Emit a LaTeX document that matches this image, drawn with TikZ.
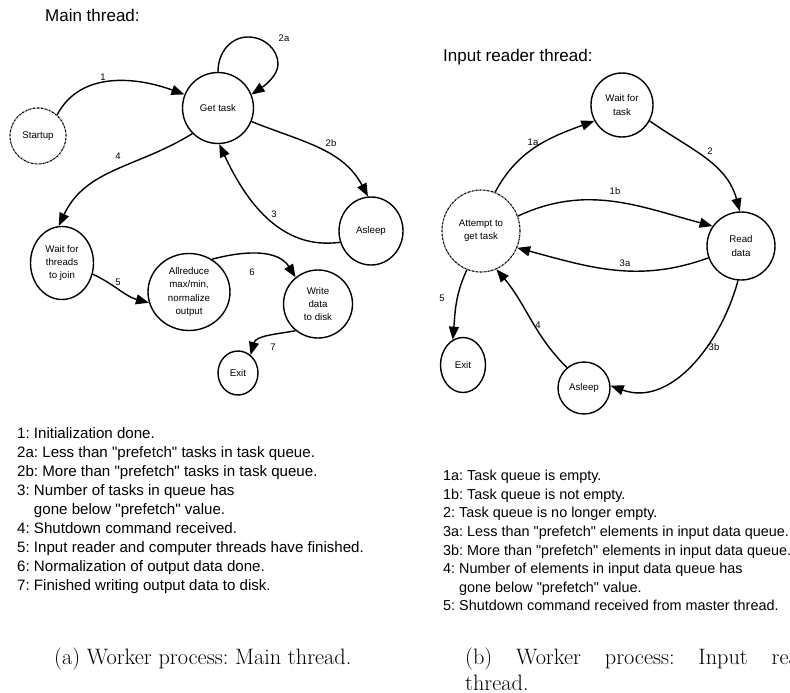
\documentclass[tikz,border=0pt]{standalone}
\usepackage{fontspec}
\newfontfamily\hv{Liberation Sans}
\usetikzlibrary{arrows.meta,shapes.geometric}

\begin{document}
\frenchspacing
\begin{tikzpicture}[x=1pt,y=1pt,
  state/.style={draw, line width=1.4pt, ellipse, inner sep=0pt, align=center,
    font=\hv\fontsize{9.7}{13.3}\selectfont},
  initstate/.style={state, line width=1.1pt,
    dash pattern=on 2pt off 0.7pt on 0.5pt off 0.7pt},
  tr/.style={line width=1.4pt, -{Triangle[length=13pt,width=10pt]}},
  lbl/.style={inner sep=0pt, font=\hv\fontsize{9.5}{11}\selectfont},
  ttl/.style={inner sep=0pt, anchor=west, font=\hv\fontsize{17}{20}\selectfont},
  legend/.style={inner sep=0pt, anchor=north west, align=left},
  capt/.style={inner sep=0pt, anchor=base west,
    font=\fontsize{22.3}{26.8}\selectfont}]

\useasboundingbox (0,0) rectangle (790,-693);
\clip (0,0) rectangle (790,-693);

% ---------------- Main thread ----------------
\node[ttl] (t1) at (45,-15) {Main thread:};

\node[initstate, minimum width=56pt, minimum height=56pt] (st) at (38,-136) {Startup};
\node[state, minimum width=71pt, minimum height=71pt] (gt) at (218,-108) {Get task};
\node[state, minimum width=64pt, minimum height=68pt] (as) at (371,-231) {Asleep};
\node[state, minimum width=63pt, minimum height=73pt] (wt) at (62,-263) {Wait for\\threads\\to join};
\node[state, minimum width=82pt, minimum height=77pt] (ar) at (189,-292) {Allreduce\\max/min,\\normalize\\output};
\node[state, minimum width=69pt, minimum height=68pt] (wd) at (318,-304) {Write\\data\\to disk};
\node[state, minimum width=40pt, minimum height=44pt] (ex) at (238,-373) {Exit};

\draw[tr] (st.48) to[out=62,in=160] (gt.158);
% self loop on "Get task"
\draw[tr] (gt.90) .. controls (218,-52) and (231,-37) .. (248,-37)
  .. controls (265,-37) and (278,-50) .. (278,-64)
  .. controls (278,-76) and (264,-86) .. (gt.22);
\draw[tr] (gt.-22) to[out=-22,in=118] (as.95);
\draw[tr] (as.200) to[out=188,in=-65] (gt.-88);
\draw[tr] (gt.-135) to[out=212,in=65] (wt.95);
\draw[tr] (wt.-20) to[out=-25,in=165] (ar.195);
\draw[tr] (ar.55) to[out=15,in=122] (wd.130);
\draw[tr] (wd.-130) to[out=190,in=75] (ex.55);

\node[lbl] (l1) at (103,-77) {1};
\node[lbl] (l2a) at (284,-38) {2a};
\node[lbl] (l2b) at (331,-143) {2b};
\node[lbl] (l3) at (274,-214) {3};
\node[lbl] (l4) at (118,-156) {4};
\node[lbl] (l5) at (118,-282) {5};
\node[lbl] (l6) at (252,-272) {6};
\node[lbl] (l7) at (273,-347) {7};

\node[legend, font=\hv\fontsize{15.1}{19}\selectfont] (leg1) at (17,-427) {1: Initialization done.\\
2a: Less than "prefetch" tasks in task queue.\\
2b: More than "prefetch" tasks in task queue.\\
3: Number of tasks in queue has\\
\phantom{3: }gone below "prefetch" value.\\
4: Shutdown command received.\\
5: Input reader and computer threads have finished.\\
6: Normalization of output data done.\\
7: Finished writing output data to disk.};

% ---------------- Input reader thread ----------------
\node[ttl] (t2) at (443,-57) {Input reader thread:};

\node[state, minimum width=62pt, minimum height=64pt] (wf) at (622,-105) {Wait for\\task};
\node[initstate, minimum width=78pt, minimum height=82pt] (at) at (481,-231) {Attempt to\\get task};
\node[state, minimum width=68pt, minimum height=68pt] (rd) at (741,-246) {Read\\data};
\node[state, minimum width=45pt, minimum height=55pt] (ex2) at (463,-365) {Exit};
\node[state, minimum width=52pt, minimum height=52pt] (as2) at (584,-388) {Asleep};

\draw[tr] (at.70) to[out=62,in=200] (wf.210);
\draw[tr] (wf.-30) to[out=-35,in=105] (rd.92);
\draw[tr] (at.22) to[out=25,in=165] (rd.145);
\draw[tr] (rd.200) to[out=200,in=-15] (at.-25);
\draw[tr] (rd.-95) to[out=-105,in=-20] (as2.5);
\draw[tr] (as2.130) to[out=135,in=-50] (at.-68);
\draw[tr] (at.-110) to[out=-115,in=85] (ex2.112);

\node[lbl] (r1a) at (533,-142) {1a};
\node[lbl] (r2) at (710,-151) {2};
\node[lbl] (r1b) at (615,-191) {1b};
\node[lbl] (r3a) at (625,-263) {3a};
\node[lbl] (r3b) at (714,-347) {3b};
\node[lbl] (r4) at (538,-325) {4};
\node[lbl] (r5) at (442,-298) {5};

\node[legend, font=\hv\fontsize{14.4}{18.6}\selectfont] (leg2) at (443,-470) {1a: Task queue is empty.\\
1b: Task queue is not empty.\\
2: Task queue is no longer empty.\\
3a: Less than "prefetch" elements in input data queue.\\
3b: More than "prefetch" elements in input data queue.\\
4: Number of elements in input data queue has\\
\phantom{4: }gone below "prefetch" value.\\
5: Shutdown command received from master thread.};

% ---------------- captions ----------------
\node[capt] (ca) at (54,-664) {(a) Worker process: Main thread.};
\node[capt] (cb) at (465,-664) {\makebox[362pt][s]{(b) Worker process: Input reader}};
\node[capt] (cb2) at (465,-690) {thread.};
\end{tikzpicture}
\end{document}
